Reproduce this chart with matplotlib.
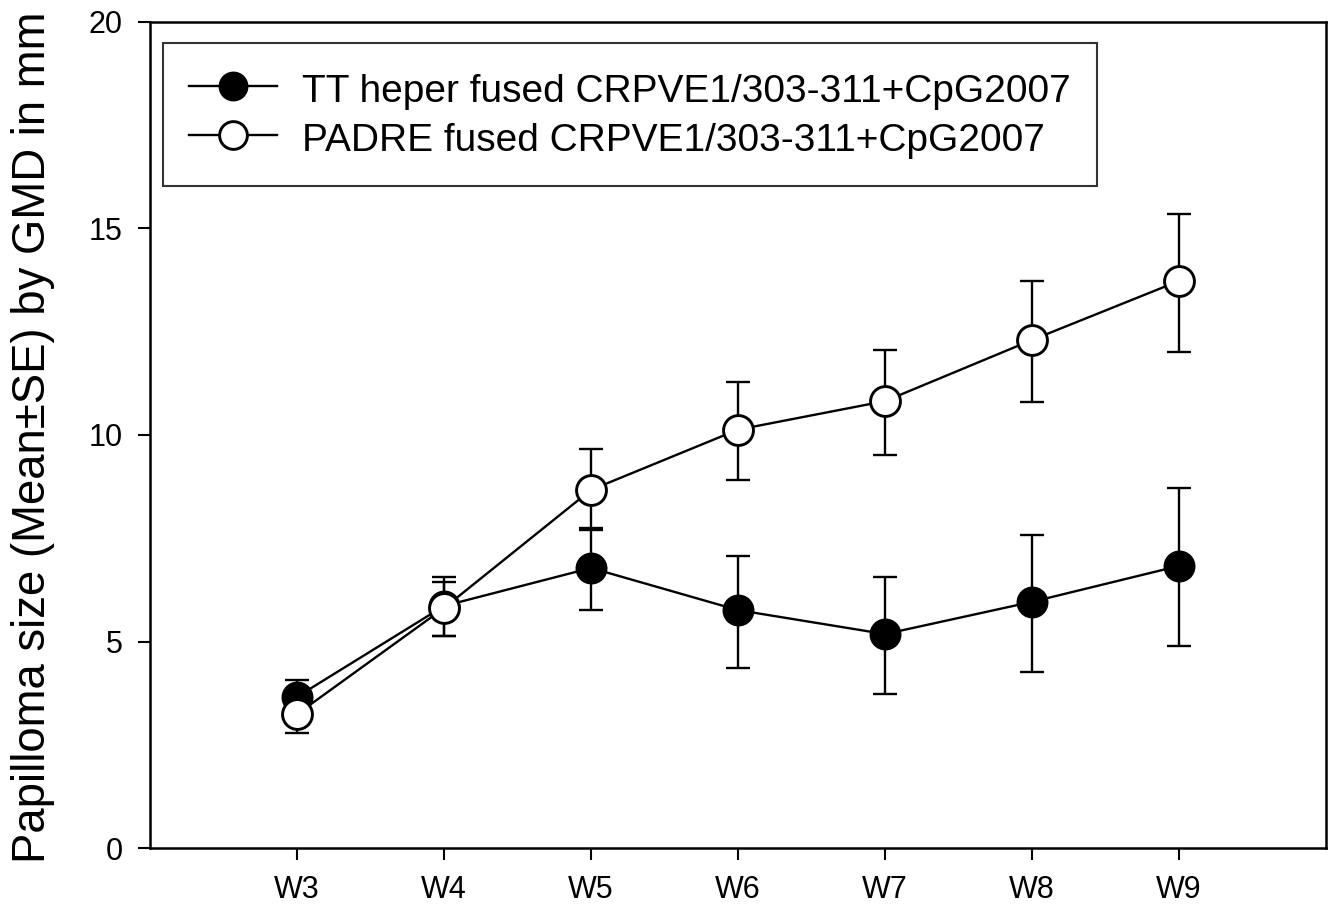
import matplotlib
matplotlib.use("Agg")
import matplotlib.pyplot as plt
import numpy as np

weeks = ["W3", "W4", "W5", "W6", "W7", "W8", "W9"]
x_pos = [3, 4, 5, 6, 7, 8, 9]

tt_label = "TT heper fused CRPVE1/303-311+CpG2007"
tt_mean = [3.66, 5.86, 6.78, 5.76, 5.18, 5.96, 6.83]
tt_err_low = [0.41, 0.72, 1.02, 1.40, 1.45, 1.70, 1.94]
tt_err_high = [0.41, 0.70, 0.97, 1.31, 1.38, 1.62, 1.89]

padre_label = "PADRE fused CRPVE1/303-311+CpG2007"
padre_mean = [3.24, 5.81, 8.67, 10.13, 10.82, 12.30, 13.73]
padre_err_low = [0.46, 0.68, 0.97, 1.22, 1.30, 1.50, 1.72]
padre_err_high = [0.46, 0.63, 0.99, 1.15, 1.24, 1.43, 1.62]

yticks = [0, 5, 10, 15, 20]
ylabel = "Papilloma size (Mean\u00b1SE) by GMD in mm"

plt.rcParams['font.family'] = ['Liberation Sans', 'DejaVu Sans']

fig = plt.figure(figsize=(13.36, 9.11), dpi=100)
ax = fig.add_axes([150/1336, 63/911, 1176/1336, 826/911])

lw = 1.7
ms = 21.5
ax.errorbar(x_pos, tt_mean, yerr=[tt_err_low, tt_err_high], fmt='none',
            ecolor='black', elinewidth=lw, capsize=12*72/100, capthick=lw, zorder=1)
ax.errorbar(x_pos, padre_mean, yerr=[padre_err_low, padre_err_high], fmt='none',
            ecolor='black', elinewidth=lw, capsize=12*72/100, capthick=lw, zorder=1)
l1, = ax.plot(x_pos, tt_mean, color='black', lw=lw, marker='o', ms=ms,
              mfc='black', mec='black', mew=1.5, zorder=3, label=tt_label)
l2, = ax.plot(x_pos, padre_mean, color='black', lw=lw, marker='o', ms=ms,
              mfc='white', mec='black', mew=2.1, zorder=4, label=padre_label)

ax.set_xlim(2, 10)
ax.set_ylim(0, 20)
ax.set_xticks(x_pos)
ax.set_xticklabels(weeks, fontsize=22)
ax.set_yticks(yticks)
ax.set_yticklabels([str(v) for v in yticks], fontsize=22)
ax.tick_params(direction='out', length=8.6, width=1.5, pad=11)
for s in ax.spines.values():
    s.set_linewidth(1.8)
ax.set_ylabel(ylabel, fontsize=32.8)
ax.yaxis.set_label_coords(-0.0804, 0.497)

leg = ax.legend(handles=[l1, l2], loc='upper left', bbox_to_anchor=(13/1176, 1 - 21/826),
                fontsize=28, frameon=True, fancybox=False, edgecolor='black',
                handlelength=2.26, handletextpad=0.64, borderpad=0.68, labelspacing=0.23,
                handleheight=1.15, borderaxespad=0, markerscale=0.93)
leg.get_frame().set_linewidth(1.5)

fig.savefig("out.png", dpi=100)
